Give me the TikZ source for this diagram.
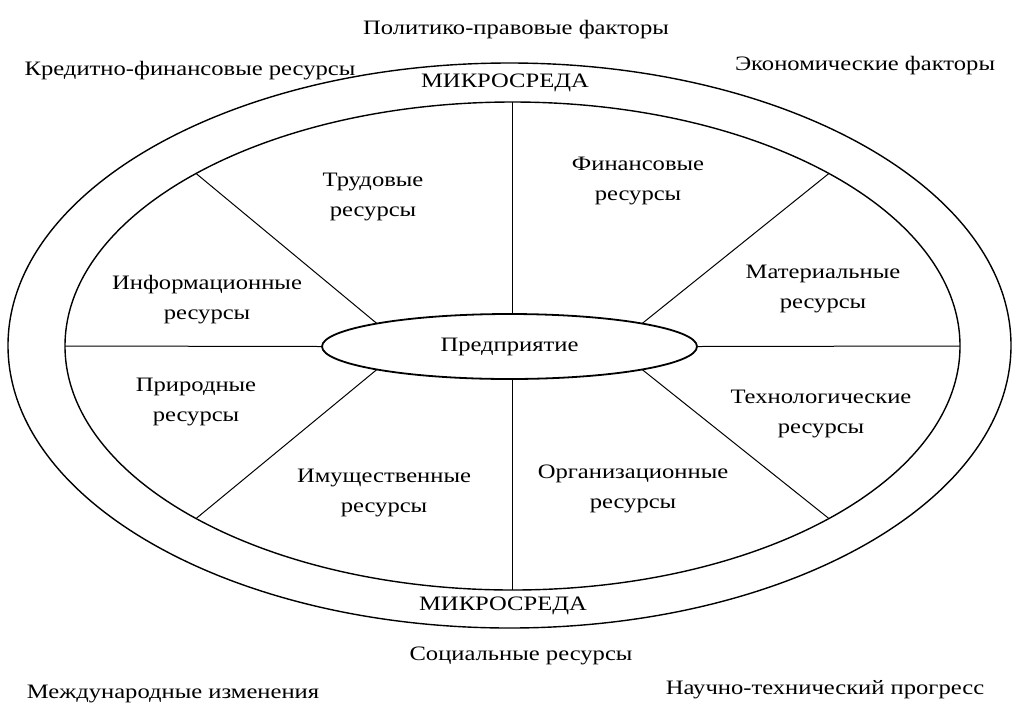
\documentclass[tikz,border=0pt]{standalone}
\usepackage{fontspec}
\setmainfont{Liberation Serif}[FakeStretch=1.2]
\usetikzlibrary{shapes.geometric,calc}
\tikzset{
  lbl/.style={font=\fontsize{20.5}{30}\selectfont, align=center, inner sep=0pt},
  tlbl/.style={lbl, yshift=-2.5pt},
  ring/.style={draw, ellipse, line width=1.4pt, inner sep=0pt, outer sep=0pt},
  spoke/.style={line width=1pt}
}
\begin{document}
\begin{tikzpicture}[x=1pt,y=-1pt]
\useasboundingbox (0,0) rectangle (1022,716);
% ellipses
\node[ring, minimum width=1003, minimum height=565] (outer) at (509.5,345.5) {};
\node[ring, minimum width=895, minimum height=488] (inner) at (512.5,346) {};
\node[ring, line width=1.8pt, minimum width=375, minimum height=65, lbl] (ent) at (509.5,346.5) {Предприятие};
% spoke end points on the inner ellipse and the enterprise ellipse
\coordinate (iUL) at ($(inner.center)+(135:447.5 and 244)$);
\coordinate (iUR) at ($(inner.center)+(45:447.5 and 244)$);
\coordinate (iLL) at ($(inner.center)+(225:447.5 and 244)$);
\coordinate (iLR) at ($(inner.center)+(315:447.5 and 244)$);
\coordinate (eUL) at ($(ent.center)+(135:187.5 and 32.5)$);
\coordinate (eUR) at ($(ent.center)+(45:187.5 and 32.5)$);
\coordinate (eLL) at ($(ent.center)+(225:187.5 and 32.5)$);
\coordinate (eLR) at ($(ent.center)+(315:187.5 and 32.5)$);
\coordinate (iT) at (512,102);
\coordinate (iB) at (512,590);
\coordinate (eT) at (512,314.1);
\coordinate (eB) at (512,378.9);
% spokes
\draw[spoke] (inner.west) -- (ent.west);
\draw[spoke] (ent.east) -- (inner.east);
\draw[spoke] (iT) -- (eT);
\draw[spoke] (eB) -- (iB);
\draw[spoke] (iUL) -- (eUL);
\draw[spoke] (iUR) -- (eUR);
\draw[spoke] (iLL) -- (eLL);
\draw[spoke] (iLR) -- (eLR);
% outer labels
\node[tlbl] (pol) at (516,27) {Политико-правовые факторы};
\node[tlbl] (kred) at (190,68) {Кредитно-финансовые ресурсы};
\node[tlbl] (econ) at (865,63) {Экономические факторы};
\node[tlbl] (soc) at (521,653) {Социальные ресурсы};
\node[tlbl] (mezh) at (173,691) {Международные изменения};
\node[tlbl] (nauch) at (825,687) {Научно-технический прогресс};
% ring labels
\node[lbl] (mtop) at (505,83) {МИКРОСРЕДА};
\node[lbl] (mbot) at (503,606) {МИКРОСРЕДА};
% sector labels
\node[tlbl] (trud) at (373,194) {Трудовые\\ресурсы};
\node[tlbl] (fin) at (638,178) {Финансовые\\ресурсы};
\node[tlbl] (inf) at (207,297) {Информационные\\ресурсы};
\node[tlbl] (mat) at (823,286) {Материальные\\ресурсы};
\node[tlbl] (prir) at (196,399) {Природные\\ресурсы};
\node[tlbl] (tech) at (821,411) {Технологические\\ресурсы};
\node[tlbl] (imu) at (384,490) {Имущественные\\ресурсы};
\node[tlbl] (org) at (633,486) {Организационные\\ресурсы};
\end{tikzpicture}
\end{document}
